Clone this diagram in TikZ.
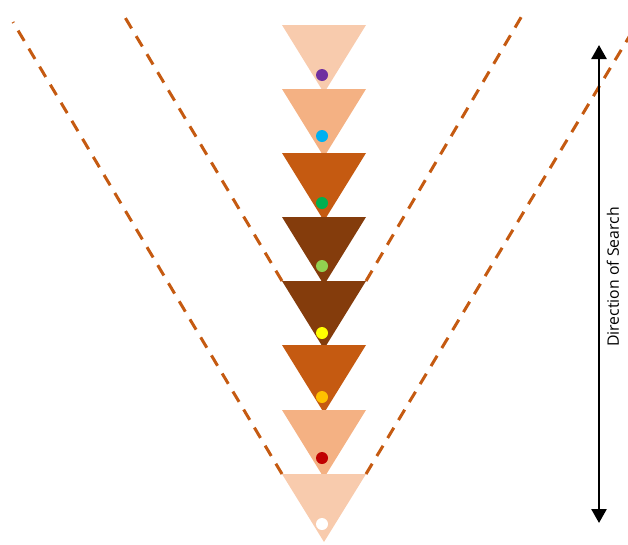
\documentclass[tikz,border=0pt]{standalone}
\usepackage{fontspec}
\setmainfont{Open Sans}
\usetikzlibrary{arrows.meta}
\definecolor{tA}{HTML}{F8CBAD}
\definecolor{tB}{HTML}{F4B183}
\definecolor{tC}{HTML}{C55A11}
\definecolor{tD}{HTML}{843C0C}
\definecolor{dashc}{HTML}{C55A11}
\definecolor{dPurple}{HTML}{7030A0}
\definecolor{dCyan}{HTML}{00B0F0}
\definecolor{dGreen}{HTML}{00B050}
\definecolor{dLime}{HTML}{92D050}
\definecolor{dYellow}{HTML}{FFFF00}
\definecolor{dOrange}{HTML}{FFC000}
\definecolor{dRed}{HTML}{C00000}
\tikzset{
  guide/.style={draw=dashc, line width=3pt, dash pattern=on 12pt off 9pt},
  dotmark/.style={circle, inner sep=0pt, minimum size=12pt},
  searcharrow/.style={line width=2.6pt, {Triangle[width=15pt,length=14pt]}-{Triangle[width=15pt,length=14pt]}},
}
\newcommand{\tri}[3]{%
  \fill[#1] (282,#2) -- (366,#2) -- (324,#2+68) -- cycle;
  \coordinate (L#3) at (282,#2);
  \coordinate (R#3) at (366,#2);
}
\begin{document}
\begin{tikzpicture}[x=1pt,y=-1pt]
\useasboundingbox (0,0) rectangle (628,544);
\clip (0,0) rectangle (628,544);
% triangles
\tri{tA}{25}{1}
\tri{tB}{89}{2}
\tri{tC}{153}{3}
\tri{tD}{217}{4}
\tri{tD}{281}{5}
\tri{tC}{345}{6}
\tri{tB}{410}{7}
\tri{tA}{474}{8}
% dots
\node[dotmark, fill=dPurple] (d1) at (322,75) {};
\node[dotmark, fill=dCyan] (d2) at (322,136) {};
\node[dotmark, fill=dGreen] (d3) at (322,203) {};
\node[dotmark, fill=dLime] (d4) at (322,266) {};
\node[dotmark, fill=dYellow] (d5) at (322,333) {};
\node[dotmark, fill=dOrange] (d6) at (322,397) {};
\node[dotmark, fill=dRed] (d7) at (322,458) {};
\node[dotmark, fill=white] (d8) at (322,524) {};
% guide lines
\coordinate (inL) at (123,14);
\coordinate (inR) at (523,14);
\coordinate (outL) at (13,22);
\coordinate (outR) at (638,22);
\draw[guide] (L5) -- (inL);
\draw[guide] (R5) -- (inR);
\draw[guide] (L8) -- (outL);
\draw[guide] (R8) -- (outR);
% arrow
\coordinate (aTop) at (599,45);
\coordinate (aBot) at (599,523);
\draw[searcharrow] (aBot) -- (aTop);
\node[rotate=90, font=\fontsize{15.8}{18}\selectfont, inner sep=0pt] (lbl) at (613,277) {Direction of Search};
\end{tikzpicture}
\end{document}
